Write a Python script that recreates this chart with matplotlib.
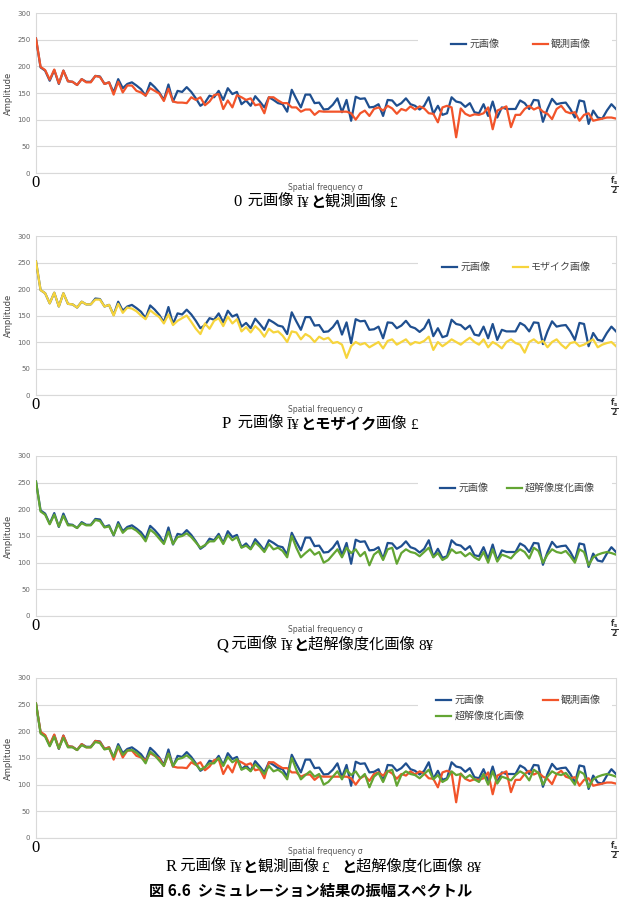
import matplotlib.pyplot as plt
from matplotlib.patches import Rectangle

# amplitude spectra (128 frequency bins, 0 .. fs/2)
original = [252, 198, 192, 173, 193, 167, 192, 172, 171, 165, 176, 171, 171, 182, 181, 167,
            170, 151, 176, 159, 167, 170, 164, 157, 145, 169, 161, 151, 137, 166, 134, 154,
            152, 161, 152, 140, 126, 132, 145, 142, 154, 137, 159, 148, 152, 129, 136, 126,
            144, 134, 123, 142, 137, 131, 129, 115, 156, 139, 123, 147, 147, 131, 132, 119,
            120, 128, 140, 114, 137, 98, 143, 139, 140, 123, 124, 129, 107, 137, 136, 126,
            131, 140, 129, 126, 119, 126, 142, 111, 126, 109, 112, 142, 134, 132, 124, 131,
            114, 112, 129, 107, 134, 104, 123, 120, 120, 120, 136, 131, 120, 137, 136, 96,
            120, 139, 129, 131, 132, 120, 104, 136, 134, 92, 117, 104, 102, 117, 129, 120]

observed = [252, 199, 193, 175, 194, 168, 192, 172, 171, 165, 176, 170, 170, 182, 180, 167,
            170, 147, 171, 151, 164, 164, 154, 151, 145, 159, 154, 149, 135, 158, 134, 132,
            132, 131, 142, 137, 142, 127, 134, 146, 148, 120, 136, 123, 146, 142, 137, 140,
            127, 129, 112, 142, 142, 136, 131, 131, 123, 123, 115, 119, 119, 109, 116, 115,
            115, 115, 115, 115, 115, 112, 100, 112, 117, 107, 120, 123, 117, 126, 121, 111,
            120, 117, 125, 119, 125, 121, 112, 111, 95, 123, 126, 123, 67, 121, 111, 107,
            110, 109, 112, 123, 82, 117, 121, 125, 86, 109, 109, 120, 126, 119, 123, 115,
            111, 101, 120, 126, 115, 112, 114, 98, 109, 112, 98, 100, 102, 104, 104, 102]

mosaic = [252, 198, 192, 173, 193, 167, 192, 172, 171, 165, 176, 171, 171, 180, 180, 167,
          170, 150, 172, 155, 165, 163, 158, 150, 143, 160, 153, 147, 135, 152, 132, 140,
          145, 150, 138, 125, 115, 135, 125, 140, 145, 130, 148, 135, 143, 120, 128, 118,
          130, 122, 110, 125, 118, 120, 112, 100, 120, 118, 105, 115, 110, 100, 110, 105,
          108, 98, 100, 95, 70, 92, 100, 95, 98, 90, 95, 100, 88, 102, 105, 95,
          100, 105, 95, 100, 98, 102, 110, 85, 100, 92, 98, 105, 100, 95, 102, 108,
          100, 95, 105, 90, 100, 95, 88, 100, 105, 98, 95, 80, 100, 105, 98, 102,
          90, 100, 105, 95, 88, 98, 100, 92, 95, 100, 105, 90, 95, 98, 100, 92]

superres = [252, 196, 190, 172, 190, 168, 188, 170, 170, 165, 174, 170, 170, 180, 178, 166,
            168, 152, 172, 156, 164, 165, 160, 152, 140, 162, 155, 145, 135, 158, 135, 148,
            150, 155, 148, 138, 128, 133, 140, 140, 150, 135, 152, 142, 148, 128, 132, 125,
            138, 130, 120, 135, 125, 128, 122, 110, 150, 128, 110, 118, 125, 115, 120, 100,
            105, 115, 125, 110, 128, 118, 125, 112, 120, 95, 115, 122, 105, 125, 128, 98,
            118, 125, 120, 118, 112, 120, 128, 110, 118, 105, 110, 125, 118, 120, 112, 118,
            110, 105, 120, 100, 125, 102, 115, 112, 108, 118, 125, 120, 108, 128, 122, 100,
            115, 125, 120, 118, 122, 112, 100, 125, 120, 95, 110, 115, 118, 120, 118, 115]

yticks = [0, 50, 100, 150, 200, 250, 300]

BLUE = "#1f4f8f"
ORANGE = "#f2542a"
YELLOW = "#f6d43c"
GREEN = "#63a533"

CJK = ["Noto Sans CJK JP", "DejaVu Sans"]
SERIF = ["Liberation Serif", "DejaVu Serif"]

W, H = 622, 899
fig = plt.figure(figsize=(W / 100, H / 100), dpi=100)

# panel: (top px, bottom px, series in legend order, legend spec, caption pieces, caption x)
panels = [
    (13, 173, [("元画像", original, BLUE), ("観測画像", observed, ORANGE)],
     dict(anchor=(446, 34), colsp=3.3),
     [("0", SERIF, "normal", 12), ("  元画像 ", CJK, "normal", 11), ("Ī¥", SERIF, "normal", 11),
      ("と", CJK, "bold", 11), ("観測画像 ", CJK, "normal", 11), ("£", SERIF, "normal", 11)], 233),
    (236, 395, [("元画像", original, BLUE), ("モザイク画像", mosaic, YELLOW)],
     dict(anchor=(437, 257), colsp=2.2),
     [("P", SERIF, "normal", 12), ("  元画像 ", CJK, "normal", 11), ("Ī¥", SERIF, "normal", 11),
      ("とモザイク", CJK, "bold", 11), ("画像 ", CJK, "normal", 11), ("£", SERIF, "normal", 11)], 222),
    (456, 616, [("元画像", original, BLUE), ("超解像度化画像", superres, GREEN)],
     dict(anchor=(435, 478), colsp=1.8),
     [("Q", SERIF, "normal", 12), (" 元画像 ", CJK, "normal", 11), ("Ī¥", SERIF, "normal", 11),
      ("と", CJK, "bold", 11), ("超解像度化画像 ", CJK, "normal", 11), ("8¥", SERIF, "normal", 11)], 216),
    (678, 838, [("元画像", original, BLUE), ("超解像度化画像", superres, GREEN),
                ("観測画像", observed, ORANGE)],
     dict(anchor=(431, 690), colsp=1.8),
     [("R", SERIF, "normal", 12), (" 元画像 ", CJK, "normal", 11), ("Ī¥", SERIF, "normal", 11),
      ("と", CJK, "bold", 11), ("観測画像 ", CJK, "normal", 11), ("£   ", SERIF, "normal", 11),
      ("と", CJK, "bold", 11), ("超解像度化画像 ", CJK, "normal", 11), ("8¥", SERIF, "normal", 11)], 166),
]

order = {BLUE: 0, ORANGE: 1, YELLOW: 1, GREEN: 2}

for top, bottom, series, leg, pieces, cap_x in panels:
    ax = fig.add_axes([36 / W, 1 - bottom / H, 580 / W, (bottom - top) / H])
    # original first, the others drawn on top of it
    lines = {}
    for name, vals, col in sorted(series, key=lambda s: order[s[2]]):
        lines[name], = ax.plot(range(len(vals)), vals, color=col, linewidth=1.6, label=name,
                               solid_joinstyle="round", zorder=3)
    ax.set_xlim(0, len(original) - 1)
    ax.set_ylim(0, 300)
    ax.set_yticks(yticks)
    ax.set_xticks([])
    ax.tick_params(axis="y", length=0, labelsize=5, labelcolor="#666666", pad=4)
    ax.grid(axis="y", color="#d9d9d9", linewidth=0.8)
    ax.set_axisbelow(True)
    ax.spines["top"].set_visible(False)
    for s in ["left", "right", "bottom"]:
        ax.spines[s].set_color("#d9d9d9")
        ax.spines[s].set_linewidth(0.8)
    ax.set_ylabel("Amplitude", fontsize=6, color="#444444", labelpad=3)

    # white legend area hiding the grid
    ax.add_patch(Rectangle((0.658, 0.69), 0.335, 0.19, transform=ax.transAxes,
                           facecolor="white", edgecolor="none", zorder=2))
    names = [s[0] for s in series]
    lg = ax.legend([lines[n] for n in names], names, loc="upper left", ncol=2, frameon=False,
                   bbox_to_anchor=(leg["anchor"][0] / W, 1 - leg["anchor"][1] / H),
                   bbox_transform=fig.transFigure, prop={"family": CJK, "size": 7.2},
                   handlelength=1.5, handletextpad=0.35, columnspacing=leg["colsp"],
                   labelspacing=0.6, borderpad=0)
    for t in lg.get_texts():
        t.set_color("#444444")

    # x axis annotations
    fig.text(36 / W, 1 - (bottom + 10) / H, "0", family=SERIF, fontsize=12,
             ha="center", va="center")
    fig.text(325 / W, 1 - (bottom + 14) / H, "Spatial frequency σ", fontsize=5.5,
             color="#555555", ha="center", va="center")
    fig.text(614 / W, 1 - (bottom + 13) / H, r"$\mathbf{\frac{f_s}{2}}$", fontsize=8,
             ha="center", va="center", color="#333333")

    # caption, built from pieces placed one after another
    prev = None
    for txt, fam, wt, fs in pieces:
        if prev is None:
            prev = ax.annotate(txt, xy=(cap_x, H - (bottom + 37)), xycoords="figure pixels",
                               family=fam, weight=wt, fontsize=fs, va="bottom", ha="left",
                               annotation_clip=False)
        else:
            prev = ax.annotate(txt, xy=(1, 0), xycoords=prev, family=fam, weight=wt,
                               fontsize=fs, va="bottom", ha="left", annotation_clip=False)

fig.text(0.5, 1 - 883 / H, "図 6.6  シミュレーション結果の振幅スペクトル", family=CJK,
         fontsize=11, weight="bold", ha="center", va="top")

fig.savefig("out.png", dpi=100)
